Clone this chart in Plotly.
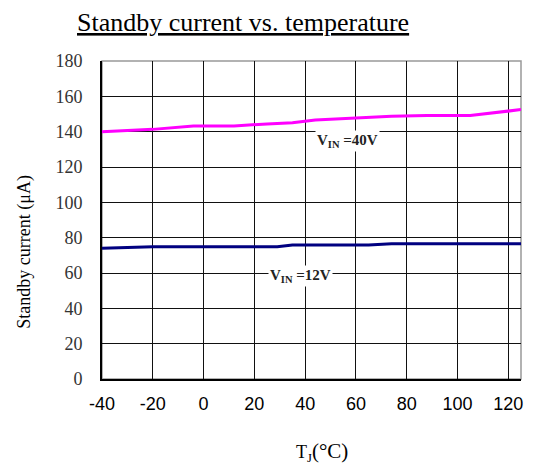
import plotly.graph_objects as go

temp_40v = [-40, -20, -4, 12, 25, 35, 44, 60, 74, 88, 105, 125]
current_40v = [140.0, 141.3, 143.2, 143.2, 144.4, 145.1, 146.6, 147.8, 148.7, 149.1, 149.1, 152.5]

temp_12v = [-40, -20, 29, 35, 65, 74, 125]
current_12v = [74.0, 74.8, 74.8, 75.9, 75.9, 76.6, 76.5]

x_ticks = [-40, -20, 0, 20, 40, 60, 80, 100, 120]
x_tick_labels = ["-40", "-20", "0", "20", "40", "60", "80", "100", "120"]
y_ticks = [0, 20, 40, 60, 80, 100, 120, 140, 160, 180]

serif = "Liberation Serif, Times New Roman, serif"
sans = "Liberation Sans, Arial, sans-serif"

fig = go.Figure()
fig.add_trace(go.Scatter(x=temp_40v, y=current_40v, mode="lines",
                         line=dict(color="#FF00FF", width=3), showlegend=False))
fig.add_trace(go.Scatter(x=temp_12v, y=current_12v, mode="lines",
                         line=dict(color="#000080", width=3), showlegend=False))

fig.add_annotation(x=56.5, y=135, text="<b>V<sub>IN</sub> =40V</b>", showarrow=False,
                   font=dict(family=serif, size=15, color="#222"), bgcolor="white")
fig.add_annotation(x=38, y=58.5, text="<b>V<sub>IN</sub> =12V</b>", showarrow=False,
                   font=dict(family=serif, size=15, color="#222"), bgcolor="white")

fig.add_annotation(xref="paper", yref="paper", x=0.336, y=1.0, yshift=39,
                   yanchor="middle",
                   text="<u>Standby current vs. temperature</u>", showarrow=False,
                   font=dict(family=serif, size=26, color="black"))
fig.add_annotation(xref="paper", yref="paper", x=-0.184, y=0.40, textangle=-90,
                   xanchor="center", yanchor="middle",
                   text="Standby current (μA)", showarrow=False,
                   font=dict(family=serif, size=18, color="black"))
fig.add_annotation(xref="paper", yref="paper", x=0.525, y=0, yshift=-73,
                   yanchor="middle",
                   text="T<sub>J</sub><span style='font-size:21px'>(°C)</span>",
                   showarrow=False,
                   font=dict(family=serif, size=18, color="black"))

fig.update_xaxes(range=[-40, 125], tickvals=x_ticks, ticktext=x_tick_labels,
                 showgrid=True, gridcolor="#111",
                 gridwidth=1, showline=True, linecolor="black", linewidth=2,
                 mirror=False, zeroline=False, ticks="", ticklabelstandoff=7,
                 tickfont=dict(family=sans, size=18, color="black"))
fig.update_yaxes(range=[0, 180], tickvals=y_ticks, showgrid=True, gridcolor="#111",
                 gridwidth=1, showline=True, linecolor="black", linewidth=2,
                 zeroline=False, ticks="", ticklabelstandoff=14,
                 tickfont=dict(family=serif, size=18, color="#333"))

fig.add_shape(type="rect", xref="paper", yref="paper", x0=0, y0=0, x1=1, y1=1,
              line=dict(color="#999", width=1.5), layer="below")

fig.update_layout(width=527, height=457, plot_bgcolor="white", paper_bgcolor="white",
                  margin=dict(l=94, r=14, t=53, b=86))

fig.write_html("out.html")
